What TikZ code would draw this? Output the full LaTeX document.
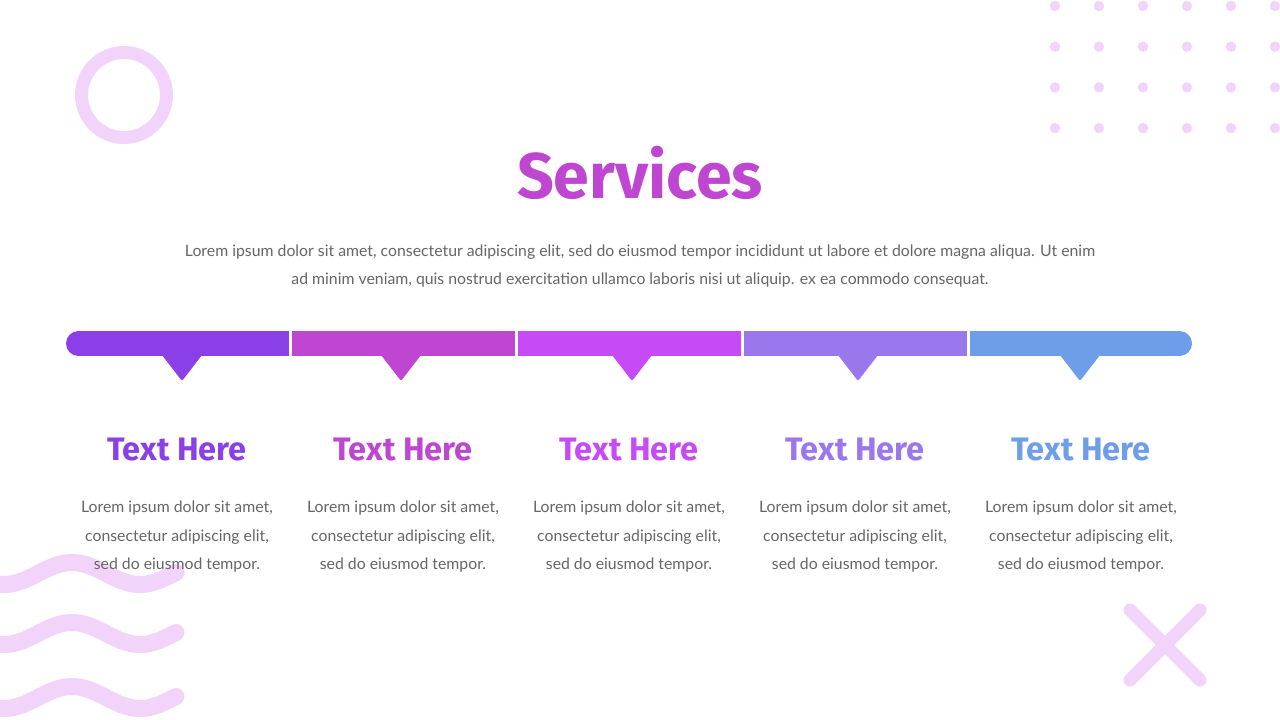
\documentclass[tikz,border=0pt]{standalone}
\usepackage{fontspec}
\setmainfont{Lato}
\newfontfamily\headfont{Fira Sans}
\usetikzlibrary{calc}
\definecolor{deco}{HTML}{F2D4FA}
\definecolor{bodygray}{HTML}{666666}
\definecolor{segA}{HTML}{8B3FE6}
\definecolor{segB}{HTML}{BF46D0}
\definecolor{segC}{HTML}{C64AF5}
\definecolor{segD}{HTML}{9B77EE}
\definecolor{segE}{HTML}{6E9EEA}
\tikzset{
  decoline/.style={line width=13pt, color=deco, line cap=round},
  bodytext/.style={text=bodygray, align=center, font=\fontsize{15.8}{28.5}\selectfont},
  headtext/.style={font=\headfont\bfseries\fontsize{32.5}{36}\selectfont},
}

\begin{document}
\begin{tikzpicture}[x=1pt, y=-1pt]
			%%%%% FRAME %%%%%
			\useasboundingbox (0, 0) rectangle (1280, 720);
			\clip (0, 0) rectangle (1280, 720);
			\fill[white] (0, 0) rectangle (1280, 720);
			
			%%%%% DECORATION %%%%%
			\draw[line width=13pt, color=deco] (124, 95) circle (42.5);
			
			\foreach \i in {0,...,5}
				\foreach \j in {0,...,3}
					\fill[deco] ({1055 + 44*\i}, {6 + 40.7*\j}) circle (5.2);
			
			\foreach \yy in {573.5, 633.5, 697.5}
				\draw[decoline, line width=17pt] plot[domain=-20:176, samples=60, smooth] (\x, {\yy - 11*cos(2.647*(\x - 72))});
			
			\draw[decoline] (1130, 610) -- (1200, 680);
			\draw[decoline] (1200, 610) -- (1130, 680);
			
			%%%%% HEADING %%%%%
			\node[font=\headfont\bfseries\fontsize{64.5}{70}\selectfont, text=segB] (title) at (640, 173) {Services};
			\node[bodytext] (intro) at (640, 266) {Lorem ipsum dolor sit amet, consectetur adipiscing elit, sed do eiusmod tempor incididunt ut labore et dolore magna aliqua. Ut enim\\ad minim veniam, quis nostrud exercitation ullamco laboris nisi ut aliquip. ex ea commodo consequat.};
			
			%%%%% BAR %%%%%
			\fill[segA] (78.5, 331) rectangle (289, 356);
			\fill[segA] (78.5, 343.5) circle (12.5);
			\fill[segB] (292, 331) rectangle (515, 356);
			\fill[segC] (518, 331) rectangle (741, 356);
			\fill[segD] (744, 331) rectangle (967, 356);
			\fill[segE] (970, 331) rectangle (1179.5, 356);
			\fill[segE] (1179.5, 343.5) circle (12.5);
			
			\foreach \cx/\col in {182/segA, 401/segB, 632/segC, 858/segD, 1080/segE}
				\fill[\col, rounded corners=2pt] (\cx - 20, 355) -- (\cx + 20, 355) -- (\cx, 381) -- cycle;
			
			%%%%% COLUMNS %%%%%
			\foreach \n/\cx/\col in {1/177/segA, 2/403/segB, 3/629/segC, 4/855/segD, 5/1081/segE} {
				\node[headtext, text=\col] (head\n) at (\cx, 450) {Text Here};
				\node[bodytext] (body\n) at (\cx, 537) {Lorem ipsum dolor sit amet,\\consectetur adipiscing elit,\\sed do eiusmod tempor.};
			}
			
		\end{tikzpicture}
\end{document}
